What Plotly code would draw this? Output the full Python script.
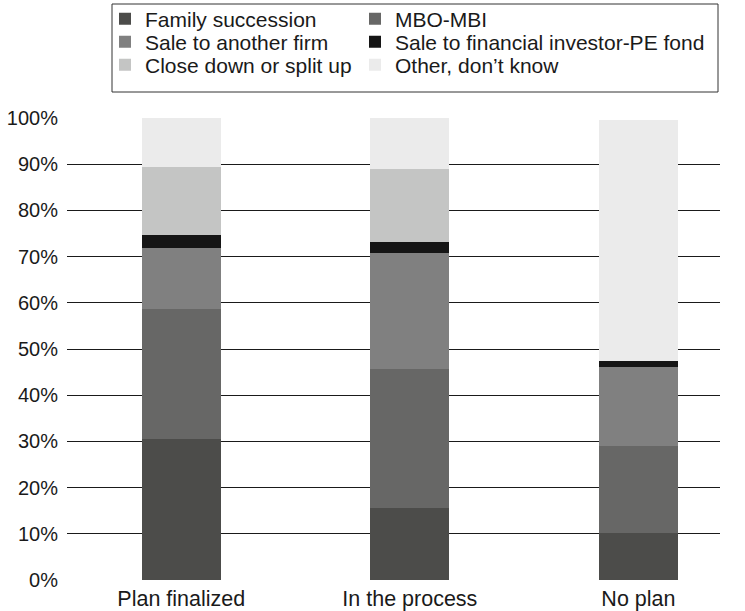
import plotly.graph_objects as go

# Share of firms by planned succession route, grouped by planning status (%)
categories = ["Plan finalized", "In the process", "No plan"]
family_succession = [30.5, 15.6, 10.2]
mbo_mbi = [28.2, 30.1, 18.9]
sale_another_firm = [13.2, 25.1, 17.0]
sale_financial_pe = [2.8, 2.4, 1.3]
close_down = [14.7, 15.8, 0.0]
other_dont_know = [10.6, 11.0, 52.1]

series = [
    ("Family succession", family_succession, "#4c4c4a"),
    ("MBO-MBI", mbo_mbi, "#676766"),
    ("Sale to another firm", sale_another_firm, "#808080"),
    ("Sale to financial investor-PE fond", sale_financial_pe, "#151515"),
    ("Close down or split up", close_down, "#c4c5c4"),
    ("Other, don’t know", other_dont_know, "#ebebeb"),
]

FONT = "Liberation Sans, Arial, Helvetica, sans-serif"
W, H = 745, 611
ML, MR, MT, MB = 67, 25, 118, 31
PW, PH = W - ML - MR, H - MT - MB


def px_to_paper_x(px):
    return (px - ML) / PW


def px_to_paper_y(py):
    return (H - MB - py) / PH


fig = go.Figure()

# legend grid: two columns, three rows, one legend per entry
col_x = [105, 355]
row_y = [19, 42, 65]
legend_layout = {}
for i, (name, vals, color) in enumerate(series):
    key = "legend" if i == 0 else f"legend{i + 1}"
    fig.add_trace(go.Bar(
        x=categories, y=vals, name=name,
        marker=dict(color=color, line=dict(width=0)),
        width=0.346, legend=key, showlegend=True,
    ))
    legend_layout[key] = dict(
        xref="container", yref="container",
        x=col_x[i % 2] / W, xanchor="left",
        y=1 - row_y[i // 2] / H, yanchor="middle",
        bgcolor="rgba(0,0,0,0)", borderwidth=0,
        font=dict(family=FONT, size=21, color="#1a1a1a"),
        orientation="h", visible=True,
    )

# frame round the legend entries
fig.add_shape(
    type="rect", xref="paper", yref="paper",
    x0=px_to_paper_x(112), x1=px_to_paper_x(718),
    y0=px_to_paper_y(92), y1=px_to_paper_y(4),
    line=dict(color="#333333", width=1), fillcolor="white", layer="below",
)

fig.update_layout(
    width=W, height=H,
    margin=dict(l=ML, r=MR, t=MT, b=MB, pad=0, autoexpand=False),
    barmode="stack", showlegend=True,
    plot_bgcolor="white", paper_bgcolor="white",
    font=dict(family=FONT, size=20, color="#1a1a1a"),
    **legend_layout,
)

fig.update_xaxes(
    type="category", range=[-0.5, 2.357],
    showgrid=False, showline=False, zeroline=False, ticks="",
    ticklabelstandoff=3,
    tickfont=dict(family=FONT, size=21.5, color="#1a1a1a"),
)
fig.update_yaxes(
    range=[0, 100], dtick=10, ticksuffix="%",
    showgrid=True, gridcolor="#1a1a1a", gridwidth=1.3,
    zeroline=False, showline=False, ticks="",
    ticklabelstandoff=8,
    tickfont=dict(family=FONT, size=20, color="#1a1a1a"),
)

fig.write_html("out.html")
